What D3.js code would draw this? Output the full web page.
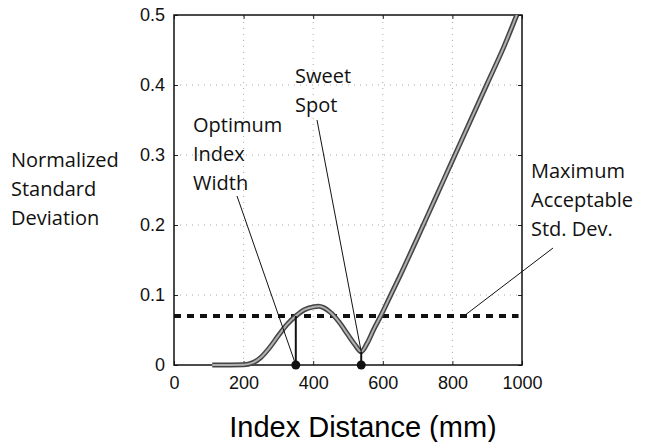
<!DOCTYPE html>
<html>
<head>
<meta charset="utf-8">
<script src="https://cdn.jsdelivr.net/npm/d3@7"></script>
<style>
  body { margin: 0; background: #fff; }
  .tick-label { font-family: "Liberation Sans", Arial, sans-serif; font-size: 18px; fill: #111; }
  .note { font-family: "Open Sans", "Noto Sans", sans-serif; font-size: 20px; fill: #111; }
</style>
</head>
<body>
<div id="stddev-chart"></div>
<script>
// curve: index distance (mm) vs normalized std dev
const l_distance = [110, 200, 225, 250, 275, 300, 325, 350, 375, 400, 415, 430, 450, 475, 500, 520, 538, 555, 575, 594, 620, 650, 700, 750, 800, 850, 900, 950, 985];
const l_stddev   = [0, 0.0005, 0.003, 0.011, 0.025, 0.042, 0.058, 0.070, 0.079, 0.083, 0.084, 0.082, 0.075, 0.061, 0.043, 0.029, 0.019, 0.031, 0.052, 0.070, 0.097, 0.128, 0.182, 0.237, 0.292, 0.347, 0.402, 0.457, 0.5];
const l_xticks = [0, 200, 400, 600, 800, 1000];
const l_yticks = [0, 0.1, 0.2, 0.3, 0.4, 0.5];
const l_maxAcceptable = 0.07;
const l_optimumWidth = 350;
const l_sweetSpot = [538, 0.019];
const l_ylabel = ["Normalized", "Standard", "Deviation"];
const l_optimumLabel = ["Optimum", "Index", "Width"];
const l_sweetLabel = ["Sweet", "Spot"];
const l_maxLabel = ["Maximum", "Acceptable", "Std. Dev."];

function stddevChart()
{
    const l_width = 648, l_height = 442,
          l_margin = {top: 15, right: 126, bottom: 77, left: 174},
          l_x = d3.scaleLinear().domain([0, 1000]).range([l_margin.left, l_width - l_margin.right]),
          l_y = d3.scaleLinear().domain([0, 0.5]).range([l_height - l_margin.bottom, l_margin.top]),
          l_svg = d3.select("#stddev-chart").append("svg")
              .attr("width", l_width)
              .attr("height", l_height);

    const x0 = l_x(0), x1 = l_x(1000), y0 = l_y(0), y1 = l_y(0.5);

    // dotted grid
    l_svg.append("g").selectAll("line").data(l_xticks.slice(1, -1)).enter().append("line")
        .attr("x1", d => l_x(d)).attr("x2", d => l_x(d))
        .attr("y1", y0).attr("y2", y1)
        .attr("stroke", "#aaa").attr("stroke-width", 1).attr("stroke-dasharray", "1,5");
    l_svg.append("g").selectAll("line").data(l_yticks.slice(1, -1)).enter().append("line")
        .attr("x1", x0).attr("x2", x1)
        .attr("y1", d => l_y(d)).attr("y2", d => l_y(d))
        .attr("stroke", "#aaa").attr("stroke-width", 1).attr("stroke-dasharray", "1,5");

    // axes, ticks inside like matlab
    const l_xaxis = d3.axisBottom(l_x).tickValues(l_xticks).tickSize(-4).tickPadding(11).tickFormat(d3.format("d"));
    const l_yaxis = d3.axisLeft(l_y).tickValues(l_yticks).tickSize(-4).tickPadding(9).tickFormat(d => d === 0 ? "0" : d3.format(".1f")(d));
    l_svg.append("g").attr("transform", "translate(0," + y0 + ")").call(l_xaxis);
    l_svg.append("g").attr("transform", "translate(" + x0 + ",0)").call(l_yaxis);
    l_svg.append("g").attr("transform", "translate(" + x1 + ",0)")
        .call(d3.axisRight(l_y).tickValues(l_yticks).tickSize(-4).tickFormat(""));
    l_svg.append("g").attr("transform", "translate(0," + y1 + ")")
        .call(d3.axisTop(l_x).tickValues(l_xticks).tickSize(-4).tickFormat(""));
    l_svg.selectAll(".domain").remove();
    l_svg.selectAll(".tick line").attr("stroke", "#222");
    l_svg.selectAll(".tick text").attr("class", "tick-label").attr("font-size", null).attr("font-family", null);

    l_svg.append("rect")
        .attr("x", x0).attr("y", y1)
        .attr("width", x1 - x0).attr("height", y0 - y1)
        .attr("fill", "none").attr("stroke", "#111").attr("stroke-width", 1.5);

    // max acceptable line
    l_svg.append("line")
        .attr("x1", x0).attr("x2", l_x(990))
        .attr("y1", l_y(l_maxAcceptable)).attr("y2", l_y(l_maxAcceptable))
        .attr("stroke", "#111").attr("stroke-width", 4).attr("stroke-dasharray", "7,6");

    // the curve: dark edge with grey core
    const l_line = d3.line().x((d, i) => l_x(l_distance[i])).y(d => l_y(d)).curve(d3.curveMonotoneX);
    l_svg.append("path").datum(l_stddev).attr("d", l_line)
        .attr("fill", "none").attr("stroke", "#444").attr("stroke-width", 5);
    l_svg.append("path").datum(l_stddev).attr("d", l_line)
        .attr("fill", "none").attr("stroke", "#b0b0b0").attr("stroke-width", 2);

    // markers
    l_svg.append("line")
        .attr("x1", l_x(l_optimumWidth)).attr("x2", l_x(l_optimumWidth))
        .attr("y1", y0).attr("y2", l_y(l_maxAcceptable))
        .attr("stroke", "#111").attr("stroke-width", 2);
    l_svg.append("line")
        .attr("x1", l_x(l_sweetSpot[0])).attr("x2", l_x(l_sweetSpot[0]))
        .attr("y1", y0).attr("y2", l_y(l_sweetSpot[1]))
        .attr("stroke", "#111").attr("stroke-width", 2);
    l_svg.selectAll("circle.marker").data([l_optimumWidth, l_sweetSpot[0]]).enter().append("circle")
        .attr("class", "marker")
        .attr("cx", d => l_x(d)).attr("cy", y0).attr("r", 4.5)
        .attr("fill", "#111");

    // leader lines
    const leaders = [
        [237, 196, l_x(l_optimumWidth), y0],
        [317, 120, l_x(l_sweetSpot[0]), l_y(l_sweetSpot[1])],
        [553, 248, l_x(833), l_y(l_maxAcceptable)]
    ];
    l_svg.append("g").selectAll("line").data(leaders).enter().append("line")
        .attr("x1", d => d[0]).attr("y1", d => d[1])
        .attr("x2", d => d[2]).attr("y2", d => d[3])
        .attr("stroke", "#111").attr("stroke-width", 1);

    // text blocks
    function block(p_lines, p_x, p_y)
    {
        l_svg.append("text").attr("class", "note")
            .selectAll("tspan").data(p_lines).enter().append("tspan")
            .attr("x", p_x).attr("y", (d, i) => p_y + i * 29)
            .text(d => d);
    }
    block(l_ylabel, 11, 167);
    block(l_optimumLabel, 193, 132);
    block(l_sweetLabel, 295, 83);
    block(l_maxLabel, 531, 178);

    l_svg.append("text")
        .attr("x", (x0 + x1) / 2 + 15).attr("y", 437)
        .attr("text-anchor", "middle")
        .style("font-family", "'Liberation Sans', Arial, sans-serif")
        .style("font-size", "29px")
        .text("Index Distance (mm)");
}

stddevChart();
</script>
</body>
</html>
